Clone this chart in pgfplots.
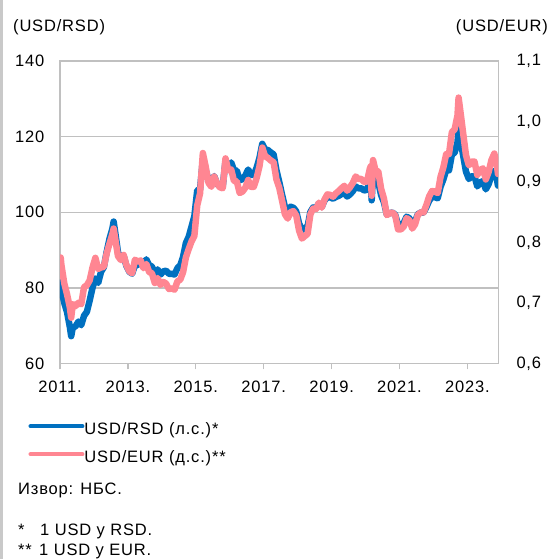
\documentclass[border=0pt]{standalone}
\usepackage{fontspec}
\setmainfont{Liberation Sans}[LetterSpace=5]
\usepackage{pgfplots}
\usepackage{pgfplotstable}
\pgfplotsset{compat=1.18}
\definecolor{rsdblue}{RGB}{0,112,192}
\definecolor{eurpink}{RGB}{255,134,146}
\definecolor{gridgray}{RGB}{192,192,192}

\pgfplotstableread{
x y
2011.00 78.65
2011.02 81.40
2011.04 79.77
2011.125 76.04
2011.208 73.57
2011.292 69.55
2011.33 67.23
2011.375 69.48
2011.458 69.84
2011.542 71.08
2011.625 70.13
2011.708 72.62
2011.792 73.67
2011.875 76.70
2011.958 80.05
2012.042 82.49
2012.125 81.32
2012.208 84.22
2012.292 85.49
2012.375 89.52
2012.458 92.98
2012.542 95.61
2012.58 97.53
2012.625 94.76
2012.708 89.42
2012.792 87.90
2012.875 88.46
2012.958 85.75
2013.042 84.27
2013.125 83.75
2013.208 86.03
2013.292 86.02
2013.375 87.06
2013.458 85.98
2013.542 87.54
2013.625 86.03
2013.708 85.62
2013.792 83.80
2013.875 84.88
2013.958 83.50
2014.042 84.35
2014.125 84.55
2014.208 83.73
2014.292 83.71
2014.375 83.54
2014.458 85.21
2014.542 85.97
2014.625 88.21
2014.708 91.86
2014.792 93.53
2014.875 96.23
2014.958 98.95
2015.042 105.77
2015.125 106.08
2015.208 113.84
2015.292 111.19
2015.375 108.36
2015.458 108.12
2015.542 109.55
2015.625 107.54
2015.708 106.77
2015.792 106.67
2015.875 113.62
2015.958 111.67
2016.042 113.17
2016.125 111.09
2016.208 110.99
2016.292 108.47
2016.375 108.75
2016.458 109.71
2016.542 111.29
2016.625 109.90
2016.708 109.90
2016.792 111.79
2016.875 114.35
2016.958 118.09
2017.042 116.59
2017.125 116.45
2017.208 115.81
2017.292 115.30
2017.375 111.12
2017.458 108.01
2017.542 104.60
2017.625 101.44
2017.708 100.42
2017.792 101.45
2017.875 101.19
2017.958 100.25
2018.042 97.05
2018.125 95.32
2018.208 95.79
2018.292 96.25
2018.375 100.08
2018.458 101.28
2018.542 101.11
2018.625 102.34
2018.708 101.37
2018.792 103.14
2018.875 103.96
2018.958 103.95
2019.042 103.59
2019.125 104.05
2019.208 104.34
2019.292 104.80
2019.375 105.18
2019.458 104.16
2019.542 104.72
2019.625 105.57
2019.708 106.82
2019.792 106.33
2019.875 106.33
2019.958 105.76
2020.042 105.95
2020.125 108.29
2020.15 108.80
2020.18 103.16
2020.22 110.11
2020.292 108.09
2020.375 107.89
2020.458 104.53
2020.542 102.62
2020.625 99.41
2020.708 99.75
2020.792 99.92
2020.875 99.32
2020.958 96.63
2021.042 96.63
2021.125 97.19
2021.208 98.82
2021.292 98.41
2021.375 96.79
2021.458 97.59
2021.542 99.49
2021.625 99.92
2021.708 99.92
2021.792 101.38
2021.875 103.07
2021.958 104.07
2022.042 103.98
2022.125 103.70
2022.208 106.72
2022.292 108.69
2022.375 111.16
2022.458 111.07
2022.542 115.23
2022.625 115.79
2022.708 118.48
2022.74 121.93
2022.792 119.43
2022.875 115.00
2022.958 110.76
2023.042 108.81
2023.125 109.52
2023.208 109.52
2023.292 106.84
2023.375 107.91
2023.458 108.21
2023.542 106.06
2023.625 107.42
2023.708 109.74
2023.792 110.98
2023.875 108.42
2023.90 107.03
}\usdrsd

\pgfplotstableread{
x y
2011.00 0.7491
2011.02 0.7752
2011.04 0.7634
2011.125 0.7326
2011.208 0.7143
2011.292 0.6920
2011.33 0.6757
2011.375 0.6983
2011.458 0.6949
2011.542 0.7003
2011.625 0.6978
2011.708 0.7262
2011.792 0.7294
2011.875 0.7375
2011.958 0.7587
2012.042 0.7746
2012.125 0.7564
2012.208 0.7587
2012.292 0.7599
2012.375 0.7819
2012.458 0.7981
2012.542 0.8137
2012.58 0.8230
2012.625 0.8065
2012.708 0.7776
2012.792 0.7710
2012.875 0.7794
2012.958 0.7622
2013.042 0.7524
2013.125 0.7491
2013.208 0.7716
2013.292 0.7680
2013.375 0.7704
2013.458 0.7576
2013.542 0.7645
2013.625 0.7513
2013.708 0.7491
2013.792 0.7331
2013.875 0.7413
2013.958 0.7299
2014.042 0.7348
2014.125 0.7321
2014.208 0.7231
2014.292 0.7241
2014.375 0.7220
2014.458 0.7358
2014.542 0.7386
2014.625 0.7508
2014.708 0.7752
2014.792 0.7893
2014.875 0.8019
2014.958 0.8110
2015.042 0.8613
2015.125 0.8811
2015.208 0.9479
2015.292 0.9251
2015.375 0.8985
2015.458 0.8921
2015.542 0.9091
2015.625 0.8977
2015.708 0.8913
2015.792 0.8897
2015.875 0.9390
2015.958 0.9191
2016.042 0.9208
2016.125 0.9017
2016.208 0.9009
2016.292 0.8818
2016.375 0.8842
2016.458 0.8905
2016.542 0.9033
2016.625 0.8921
2016.708 0.8921
2016.792 0.9066
2016.875 0.9259
2016.958 0.9569
2017.042 0.9425
2017.125 0.9398
2017.208 0.9355
2017.292 0.9328
2017.375 0.9042
2017.458 0.8905
2017.542 0.8688
2017.625 0.8467
2017.708 0.8396
2017.792 0.8503
2017.875 0.8518
2017.958 0.8446
2018.042 0.8197
2018.125 0.8065
2018.208 0.8104
2018.292 0.8143
2018.375 0.8467
2018.458 0.8562
2018.542 0.8554
2018.625 0.8658
2018.708 0.8576
2018.792 0.8711
2018.875 0.8795
2018.958 0.8787
2019.042 0.8757
2019.125 0.8811
2019.208 0.8850
2019.292 0.8897
2019.375 0.8937
2019.458 0.8857
2019.542 0.8913
2019.625 0.8985
2019.708 0.9091
2019.792 0.9050
2019.875 0.9050
2019.958 0.9001
2020.042 0.9009
2020.125 0.9217
2020.15 0.9259
2020.18 0.8772
2020.22 0.9363
2020.292 0.9191
2020.375 0.9174
2020.458 0.8889
2020.542 0.8726
2020.625 0.8453
2020.708 0.8482
2020.792 0.8496
2020.875 0.8446
2020.958 0.8217
2021.042 0.8217
2021.125 0.8264
2021.208 0.8403
2021.292 0.8368
2021.375 0.8230
2021.458 0.8299
2021.542 0.8460
2021.625 0.8496
2021.708 0.8496
2021.792 0.8621
2021.875 0.8764
2021.958 0.8850
2022.042 0.8842
2022.125 0.8818
2022.208 0.9083
2022.292 0.9242
2022.375 0.9461
2022.458 0.9461
2022.542 0.9823
2022.625 0.9872
2022.708 1.0101
2022.74 1.0395
2022.792 1.0173
2022.875 0.9804
2022.958 0.9443
2023.042 0.9276
2023.125 0.9337
2023.208 0.9337
2023.292 0.9116
2023.375 0.9200
2023.458 0.9225
2023.542 0.9042
2023.625 0.9166
2023.708 0.9363
2023.792 0.9470
2023.875 0.9251
2023.90 0.9132
}\usdeur

\begin{document}
\begin{tikzpicture}[font=\fontsize{16.5bp}{19bp}\selectfont]
\useasboundingbox (0,0) rectangle (550bp,559bp);
\fill[white] (0,0) rectangle (550bp,559bp);
\draw[gridgray!85, line width=2bp] (1.5bp,0) -- (1.5bp,559bp);
\begin{axis}[
  at={(60bp,195.5bp)}, anchor=south west,
  width=438.3bp, height=302.5bp, scale only axis,
  xmin=2011, xmax=2023.91, ymin=60, ymax=140,
  xtick={2011,2013,2015,2017,2019,2021,2023},
  xticklabels={2011.,2013.,2015.,2017.,2019.,2021.,2023.},
  ytick={60,80,100,120,140}, yticklabels={60,80,100,120,140},
  axis line style={gridgray, line width=1.5bp},
  ymajorgrids, grid style={gridgray, line width=1.3bp},
  xtick pos=left, xtick align=outside,
  x tick style={gridgray, line width=1.3bp},
  major tick length=6bp,
  ytick pos=left, y tick style={draw=none},
  tick label style={font=\fontsize{16.5bp}{19bp}\selectfont},
  yticklabel style={inner sep=0pt, anchor=east, xshift=-15.5bp},
  xticklabel style={inner sep=0pt, anchor=north, yshift=-11bp},
]
\addplot[rsdblue, line width=6.5bp, line join=round, line cap=round] table[x=x,y=y] {\usdrsd};
\end{axis}
\begin{axis}[
  at={(60bp,195.5bp)}, anchor=south west,
  width=438.3bp, height=302.5bp, scale only axis,
  xmin=2011, xmax=2023.91, ymin=0.6, ymax=1.1,
  axis x line=none, axis y line*=right,
  axis line style={gridgray, line width=1.5bp},
  ytick={0.6,0.7,0.8,0.9,1.0,1.1},
  yticklabels={{0,6},{0,7},{0,8},{0,9},{1,0},{1,1}},
  y tick style={draw=none},
  tick label style={font=\fontsize{16.5bp}{19bp}\selectfont},
  yticklabel style={inner sep=0pt, anchor=west, xshift=18bp},
  legend style={at={(axis description cs:-0.0724,-0.1802)}, anchor=north west,
    draw=none, fill=none, inner sep=0pt, row sep=12bp,
    font=\fontsize{16.5bp}{19bp}\selectfont,
    cells={anchor=west},
    nodes={inner sep=0pt, text height=16bp, text depth=0bp},
    /tikz/every even column/.append style={column sep=7.25bp}},
  legend image code/.code={\draw[#1, line width=4.5bp, line cap=round] (0bp,0bp) -- (51.5bp,0bp);},
]
\addlegendimage{rsdblue}
\addlegendentry{USD/RSD (л.с.)*}
\addplot[eurpink, line width=6.5bp, line join=round, line cap=round] table[x=x,y=y] {\usdeur};
\addlegendentry{USD/EUR (д.с.)**}
\end{axis}
\node[anchor=base west, inner sep=0pt] at (13bp,527bp) {(USD/RSD)};
\node[anchor=base east, inner sep=0pt] at (548bp,527bp) {(USD/EUR)};
\node[anchor=base west, inner sep=0pt] at (18bp,64.3bp) {Извор: НБС.};
\node[anchor=base west, inner sep=0pt] at (18bp,24bp) {\makebox[22bp][l]{*}1 USD у RSD.};
\node[anchor=base west, inner sep=0pt] at (18bp,4bp) {\makebox[21bp][l]{**}1 USD у EUR.};
\end{tikzpicture}
\end{document}
